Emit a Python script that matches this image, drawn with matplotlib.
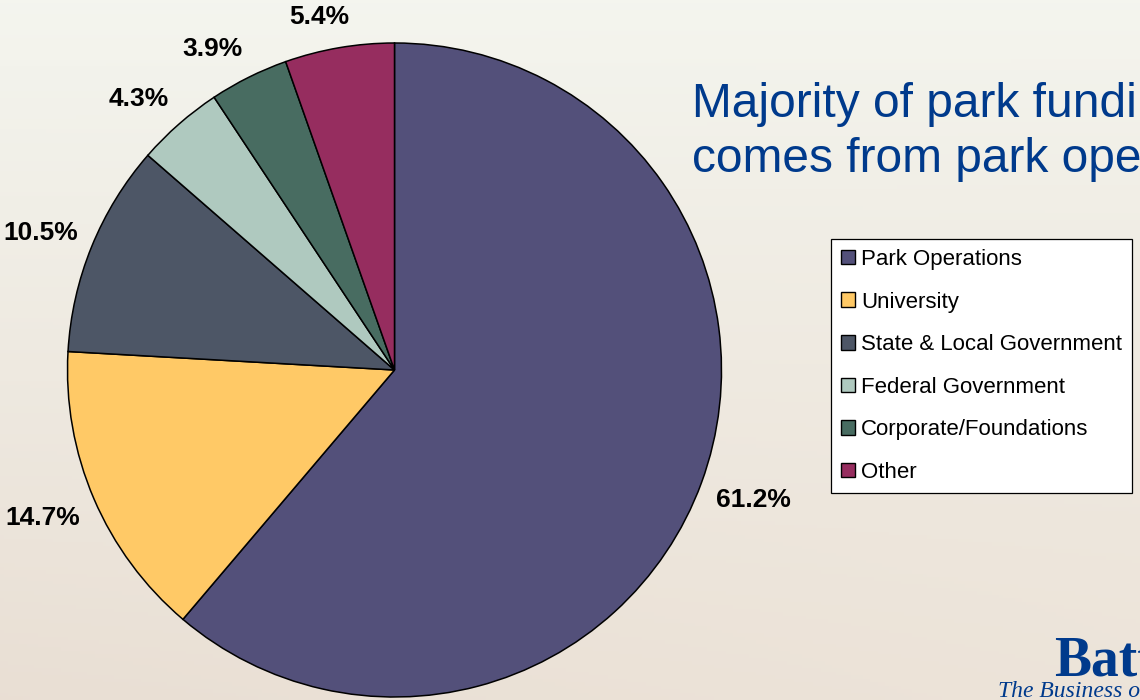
import numpy as np
import matplotlib
matplotlib.use("Agg")
import matplotlib.pyplot as plt

# Funding sources (percent of total park funding)
categories = ["Park Operations", "University", "State & Local Government",
              "Federal Government", "Corporate/Foundations", "Other"]
shares = [61.2, 14.7, 10.5, 4.3, 3.9, 5.4]
colors = ["#53507A", "#FFC966", "#4D5666", "#AFC9BF", "#486C61", "#962D5F"]

title_lines = ["Majority of park funding", "comes from park operations"]
brand = "Battelle"
tagline = "The Business of Innovation"

W, H = 1140, 700
fig = plt.figure(figsize=(W / 100, H / 100), dpi=100)

# soft beige backdrop: pale green-white at top, warmer tan at the bottom
bg = fig.add_axes([0, 0, 1, 1], zorder=0)
bg.set_axis_off()
yy, xx = np.mgrid[0:1:200j, 0:1:300j]
top = np.array([0.957, 0.961, 0.935])
bottom = np.array([0.914, 0.874, 0.831])
right_warm = np.array([0.955, 0.930, 0.890])
t = yy[..., None]
img = top * (1 - t) + bottom * t
img = img * (1 - 0.35 * xx[..., None] * t) + right_warm * 0.35 * xx[..., None] * t
bg.imshow(img, extent=[0, 1, 0, 1], aspect="auto", origin="upper")

ax = fig.add_axes([0, 0, 1, 1], zorder=1)
ax.patch.set_alpha(0)
cx, cy, rad = 394.5, H - 370, 327
label_pt = 19
wedges, texts, autotexts = ax.pie(
    shares, colors=colors, startangle=90, counterclock=False,
    center=(cx, cy), radius=rad, autopct="%1.1f%%", pctdistance=1.15,
    wedgeprops=dict(edgecolor="black", linewidth=1.1),
    textprops=dict(fontsize=label_pt, fontweight="bold", family="Liberation Sans",
                   color="black"))
ax.set_xlim(0, W)
ax.set_ylim(0, H)
ax.set_aspect("equal")
ax.set_axis_off()

# outside-end labels: the label box is hung from a point just past the rim,
# sliding its anchor around the box as the wedge's mid-angle turns
renderer = fig.canvas.get_renderer()
gap_x, gap_y = 15, 24
cap_h = 0.716 * label_pt * 100 / 72
for w, at in zip(wedges, autotexts):
    mid = np.deg2rad(0.5 * (w.theta1 + w.theta2))
    c, s = np.cos(mid), np.sin(mid)
    px, py = cx + (rad + gap_x) * c, cy + (rad + gap_y) * s
    bw = at.get_window_extent(renderer).width
    fx = np.clip(0.5 - 1.7 * c, 0, 1)   # where the anchor sits across the box (0 = left)
    fy = np.clip(0.5 + 1.0 * s, 0, 1)   # where the anchor sits down the box (0 = top)
    at.set_position((px + (0.5 - fx) * bw, py + (fy - 1) * cap_h))
    at.set_ha("center")
    at.set_va("baseline")

leg = ax.legend(wedges, categories, loc="upper left",
                bbox_to_anchor=(831 / W, 1 - 239 / H), bbox_transform=fig.transFigure,
                prop=dict(family="Liberation Sans", size=16),
                handlelength=0.63, handleheight=0.63, handletextpad=0.27,
                labelspacing=0.97, borderpad=0.45, borderaxespad=0,
                fancybox=False, framealpha=1, edgecolor="black")
leg.get_frame().set_linewidth(0.9)
for h in leg.legend_handles:
    h.set_linewidth(1.0)
    h.set_edgecolor("black")

for line, base in zip(title_lines, [117, 172]):
    fig.text(692 / W, 1 - base / H, line, family="Liberation Sans", fontsize=34.5,
             color="#003A8C", va="baseline", ha="left")
fig.text(1054 / W, 1 - 676 / H, brand, family="Liberation Serif", fontweight="bold",
         fontsize=40, color="#003A8C", va="baseline", ha="left")
fig.text(998 / W, 1 - 697 / H, tagline, family="Liberation Serif", style="italic",
         fontsize=17, color="#003A8C", va="baseline", ha="left")

fig.savefig("out.png", dpi=100)
